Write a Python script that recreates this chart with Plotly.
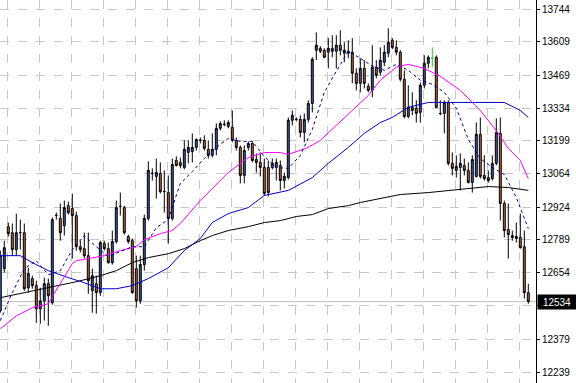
import plotly.graph_objects as go

# ---------------- data ----------------
bars = list(range(133))
opens = [12496, 12670, 12844, 12819, 12749, 12819, 12819, 12591, 12629, 12600,
         12504, 12537, 12608, 12529, 12890, 12878, 12848, 12931, 12919, 12890,
         12761, 12753, 12724, 12579, 12608, 12571, 12774, 12753, 12695, 12782,
         12927, 12923, 12803, 12786, 12670, 12537, 12687, 12878, 13064, 13052,
         13064, 12989, 12985, 12878, 13118, 13110, 13089, 13151, 13155, 13172,
         13201, 13201, 13164, 13139, 13164, 13251, 13267, 13259, 13255, 13201,
         13172, 13056, 13172, 13188, 13122, 13110, 13089, 13089, 13089, 13089,
         13097, 13035, 13047, 13284, 13288, 13288, 13234, 13288, 13354, 13574,
         13582, 13574, 13566, 13582, 13570, 13595, 13562, 13570, 13566, 13479,
         13437, 13499, 13425, 13408, 13504, 13483, 13524, 13562, 13615, 13586,
         13566, 13454, 13300, 13338, 13334, 13317, 13429, 13520, 13541, 13545,
         13313, 13313, 13358, 13106, 13077, 13089, 13097, 13077, 13027, 13052,
         13226, 13056, 13047, 13043, 13106, 13230, 12940, 12832, 12807, 12803,
         12799, 12761, 12571]
highs = [12745, 12786, 12861, 12857, 12898, 12873, 12857, 12674, 12641, 12620,
         12591, 12633, 12629, 12882, 12902, 12940, 12952, 12948, 12981, 12906,
         12786, 12819, 12819, 12670, 12641, 12786, 12786, 12778, 12828, 12952,
         12985, 12931, 12811, 12795, 12724, 12724, 12894, 13114, 13085, 13126,
         13110, 13077, 13056, 13126, 13135, 13130, 13201, 13201, 13230, 13209,
         13213, 13222, 13201, 13230, 13271, 13280, 13284, 13284, 13325, 13213,
         13180, 13180, 13197, 13197, 13147, 13151, 13126, 13118, 13126, 13126,
         13118, 13068, 13296, 13325, 13296, 13305, 13313, 13367, 13545, 13648,
         13591, 13582, 13624, 13636, 13636, 13657, 13607, 13615, 13624, 13499,
         13541, 13533, 13437, 13595, 13533, 13586, 13595, 13665, 13624, 13615,
         13574, 13491, 13429, 13400, 13367, 13441, 13553, 13553, 13586, 13553,
         13367, 13367, 13367, 13151, 13139, 13147, 13126, 13110, 13139, 13275,
         13296, 13139, 13077, 13139, 13292, 13296, 12952, 12940, 12828, 12861,
         12898, 12828, 12608]
lows = [12488, 12654, 12803, 12724, 12724, 12749, 12579, 12571, 12587, 12446,
        12442, 12455, 12434, 12521, 12873, 12786, 12807, 12894, 12712, 12745,
        12737, 12712, 12566, 12488, 12484, 12558, 12745, 12691, 12687, 12774,
        12890, 12811, 12774, 12566, 12509, 12525, 12662, 12869, 13035, 12960,
        12981, 12902, 12774, 12869, 13093, 13085, 13081, 13106, 13110, 13159,
        13188, 13159, 13126, 13130, 13139, 13242, 13259, 13251, 13193, 13159,
        13023, 13023, 13159, 13110, 13068, 13052, 12973, 12969, 13081, 13035,
        12994, 13002, 13039, 13263, 13280, 13213, 13193, 13275, 13317, 13533,
        13562, 13541, 13499, 13545, 13499, 13553, 13524, 13541, 13437, 13408,
        13400, 13416, 13400, 13379, 13458, 13470, 13508, 13545, 13578, 13553,
        13445, 13292, 13292, 13305, 13275, 13275, 13416, 13499, 13504, 13334,
        13305, 13230, 13097, 13056, 13047, 12994, 13056, 13023, 12985, 13047,
        13043, 13035, 13027, 13035, 13097, 12869, 12799, 12712, 12786, 12778,
        12753, 12546, 12525]
closes = [12724, 12757, 12815, 12749, 12819, 12820, 12587, 12650, 12600, 12504,
          12537, 12608, 12558, 12873, 12891, 12819, 12923, 12902, 12890, 12761,
          12749, 12724, 12620, 12641, 12571, 12778, 12753, 12695, 12782, 12923,
          12928, 12819, 12782, 12571, 12537, 12687, 12878, 13077, 13065, 13068,
          12989, 12990, 12878, 13101, 13097, 13097, 13164, 13172, 13172, 13205,
          13202, 13168, 13139, 13164, 13251, 13271, 13268, 13275, 13201, 13172,
          13056, 13159, 13188, 13118, 13110, 13089, 12981, 12985, 13106, 13110,
          13035, 13052, 13284, 13305, 13289, 13234, 13288, 13354, 13537, 13595,
          13570, 13545, 13582, 13570, 13595, 13574, 13574, 13562, 13479, 13437,
          13499, 13437, 13408, 13504, 13470, 13533, 13566, 13607, 13586, 13566,
          13454, 13300, 13338, 13325, 13313, 13429, 13520, 13545, 13541, 13338,
          13312, 13358, 13106, 13085, 13093, 13106, 13077, 13027, 13122, 13226,
          13052, 13043, 13035, 13106, 13234, 12940, 12828, 12811, 12799, 12795,
          12757, 12571, 12534]
green_bars = [108]

# dashed blue fast moving average
ma_fast_bars = list(range(0, 133, 3))
ma_fast = [12455, 12571, 12670, 12703, 12645, 12662, 12749, 12807, 12761, 12720,
           12741, 12761, 12761, 12840, 12873, 13023, 13072, 13126, 13172, 13209,
           13197, 13197, 13135, 13089, 13085, 13139, 13246, 13400, 13487, 13570,
           13541, 13508, 13491, 13516, 13491, 13450, 13433, 13400, 13334, 13205,
           13126, 13089, 13060, 12965, 12836]

# magenta moving average
ma_mid_bars = [0, 4, 8, 12, 13, 16, 18, 19, 23, 26, 30, 34, 36, 40, 43, 45, 50, 53,
               57, 62, 66, 70, 72, 77, 80, 84, 88, 92, 95, 99, 102, 106, 110, 115,
               120, 124, 127, 130, 132]
ma_mid = [12421, 12475, 12508, 12525, 12554, 12633, 12691, 12703, 12716, 12724,
          12745, 12761, 12790, 12815, 12828, 12857, 12952, 13002, 13068, 13130,
          13151, 13151, 13143, 13172, 13201, 13263, 13325, 13387, 13450, 13504,
          13516, 13499, 13466, 13408, 13325, 13242, 13168, 13118, 13043]

# solid blue moving average
ma_slow_bars = [0, 5, 8, 12, 17, 21, 25, 29, 33, 37, 42, 46, 50, 53, 57, 62, 66, 70,
                72, 78, 82, 87, 91, 95, 98, 102, 107, 111, 115, 119, 126, 130, 132]
ma_slow = [12724, 12724, 12695, 12662, 12633, 12612, 12587, 12587, 12600, 12629,
           12674, 12745, 12795, 12861, 12898, 12923, 12973, 12985, 12994, 13047,
           13106, 13172, 13230, 13275, 13296, 13338, 13358, 13358, 13358, 13358,
           13358, 13325, 13296]

# black long moving average
ma_long_bars = [0, 6, 12, 19, 25, 29, 33, 37, 42, 46, 50, 53, 57, 62, 66, 70, 74, 78,
                82, 87, 90, 95, 100, 107, 112, 117, 122, 127, 132]
ma_long = [12550, 12571, 12591, 12616, 12641, 12662, 12695, 12716, 12732, 12753,
           12786, 12807, 12828, 12844, 12861, 12869, 12886, 12894, 12919, 12931,
           12944, 12960, 12977, 12985, 12994, 13002, 13010, 13006, 12994]

price_ticks = [13744, 13609, 13469, 13334, 13199, 13064, 12924, 12789, 12654, 12519, 12379, 12239]
last_price = 12534

# ---------------- figure ----------------
main_idx = [i for i in bars if i not in green_bars]
grn_idx = [i for i in bars if i in green_bars]

BULL = "#3f5bb0"
BEAR = "#c0653c"
FONT = "Liberation Sans, Arial, sans-serif"

fig = go.Figure()

fig.add_trace(go.Candlestick(
    x=[bars[i] for i in main_idx],
    open=[opens[i] for i in main_idx],
    high=[highs[i] for i in main_idx],
    low=[lows[i] for i in main_idx],
    close=[closes[i] for i in main_idx],
    increasing=dict(line=dict(color="black", width=1), fillcolor=BULL),
    decreasing=dict(line=dict(color="black", width=1), fillcolor=BEAR),
    whiskerwidth=0, hoverinfo="skip", showlegend=False,
))
fig.add_trace(go.Candlestick(
    x=[bars[i] for i in grn_idx],
    open=[opens[i] for i in grn_idx],
    high=[highs[i] for i in grn_idx],
    low=[lows[i] for i in grn_idx],
    close=[closes[i] for i in grn_idx],
    increasing=dict(line=dict(color="#22cc22", width=1), fillcolor="#22cc22"),
    decreasing=dict(line=dict(color="#22cc22", width=1), fillcolor="#22cc22"),
    whiskerwidth=0, hoverinfo="skip", showlegend=False,
))

fig.add_trace(go.Scatter(x=ma_long_bars, y=ma_long, mode="lines",
                         line=dict(color="black", width=1), hoverinfo="skip"))
fig.add_trace(go.Scatter(x=ma_slow_bars, y=ma_slow, mode="lines",
                         line=dict(color="#0000cc", width=1), hoverinfo="skip"))
fig.add_trace(go.Scatter(x=ma_mid_bars, y=ma_mid, mode="lines",
                         line=dict(color="#ff00ff", width=1), hoverinfo="skip"))
fig.add_trace(go.Scatter(x=ma_fast_bars, y=ma_fast, mode="lines",
                         line=dict(color="#000099", width=1, dash="3px,3px"), hoverinfo="skip"))

fig.add_shape(type="line", xref="paper", x0=0, x1=1, y0=last_price, y1=last_price,
              line=dict(color="#c0c0c0", width=1), layer="below")

fig.add_annotation(xref="paper", x=1, y=last_price, xanchor="left", yanchor="middle",
                   text=str(last_price), showarrow=False, xshift=1,
                   font=dict(family=FONT, size=10, color="white"),
                   bgcolor="black", borderpad=1, width=36, height=12)

fig.update_layout(
    width=576, height=383,
    margin=dict(l=0, r=40, t=0, b=0, pad=0),
    paper_bgcolor="white", plot_bgcolor="white",
    showlegend=False,
    xaxis=dict(range=[-0.075, 133.925], showticklabels=False,
               tickvals=[1.9 + 8 * k for k in range(17)], ticks="",
               showgrid=True, gridcolor="#c8c8c8", griddash="dash", gridwidth=1,
               zeroline=False, showline=False, rangeslider=dict(visible=False),
               automargin=False),
    yaxis=dict(side="right", range=[12197, 13782], tickvals=price_ticks,
               ticktext=[str(v) for v in price_ticks],
               showgrid=True, gridcolor="#c8c8c8", griddash="dash", gridwidth=1,
               ticks="outside", ticklen=3, tickcolor="black",
               showline=True, linecolor="black", linewidth=1, zeroline=False,
               automargin=False,
               tickfont=dict(family=FONT, size=10, color="black")),
)

fig.write_html("out.html", config={"displayModeBar": False},
               post_script="document.body.style.margin='0';document.body.style.overflow='hidden';")
